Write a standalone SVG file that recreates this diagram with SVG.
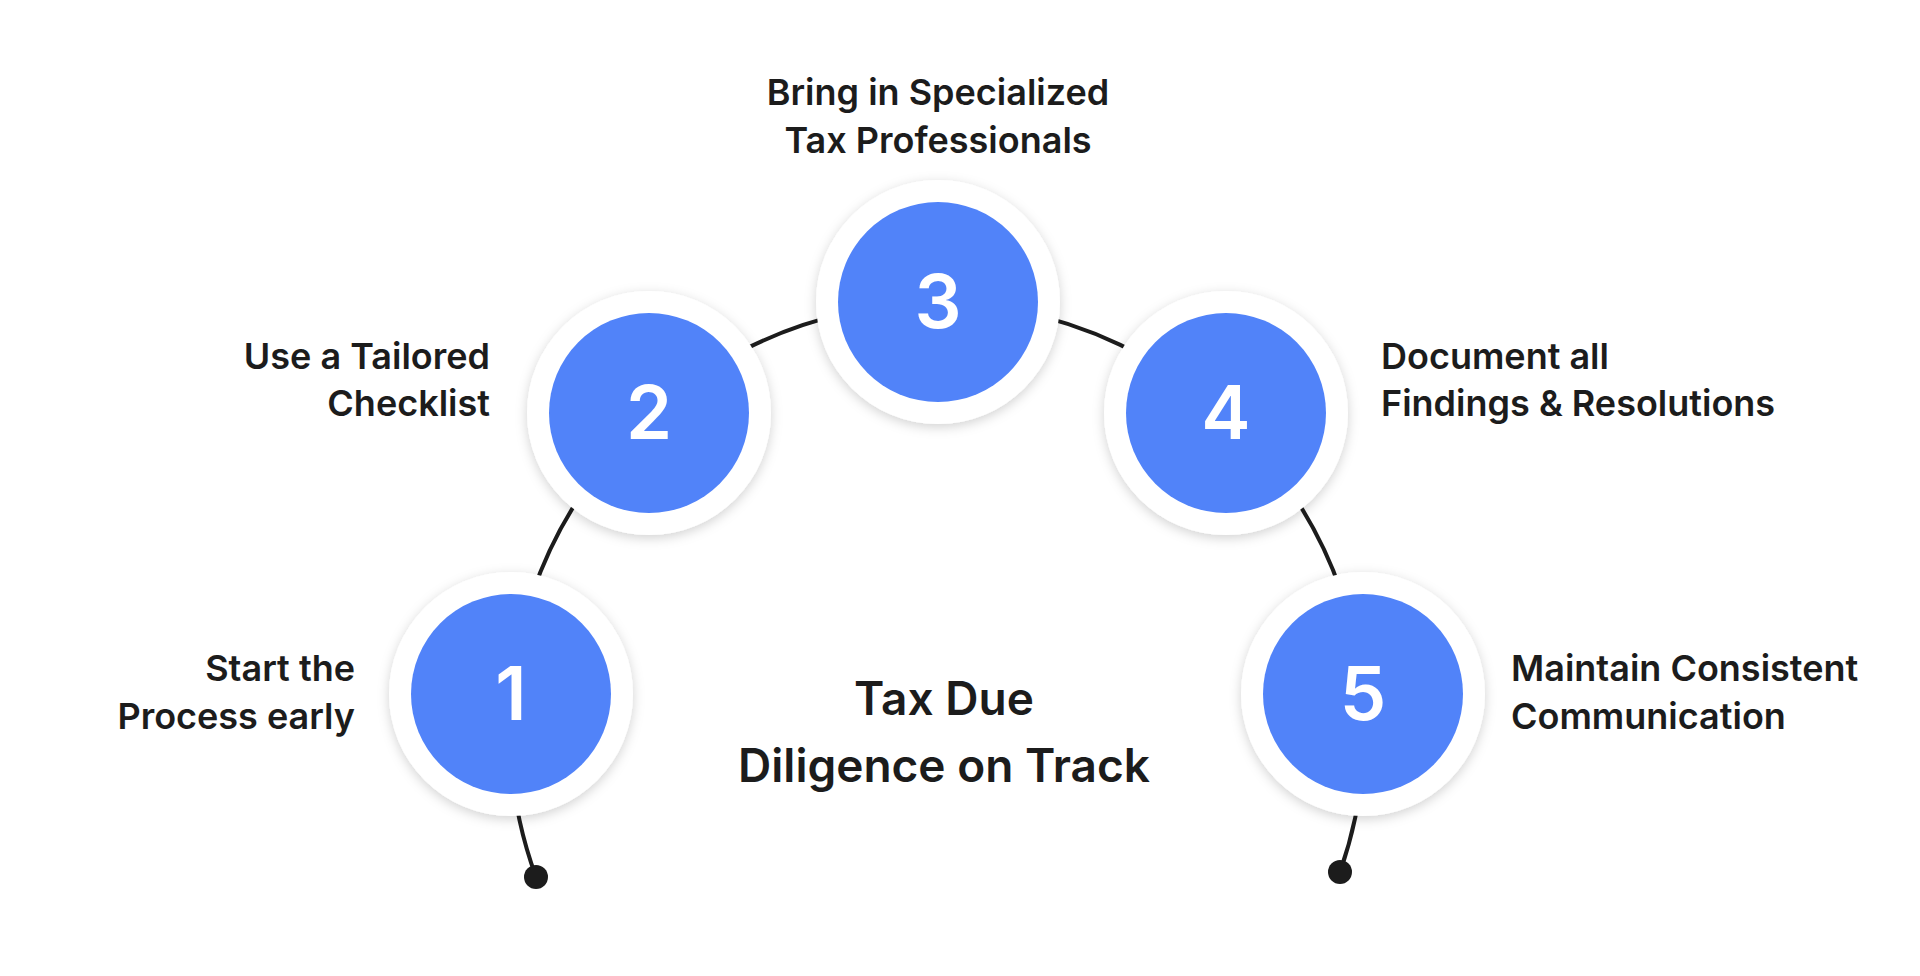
<svg xmlns="http://www.w3.org/2000/svg" width="1920" height="976" viewBox="0 0 1920 976">
<defs>
<filter id="sh" x="-30%" y="-30%" width="160%" height="160%"><feDropShadow dx="0" dy="3" stdDeviation="6" flood-color="#000" flood-opacity="0.18"/></filter>
<style>
.ring{fill:#fff;filter:url(#sh)}
.in{fill:#5183f9}
.num{font-family:Inter,"Liberation Sans",sans-serif;font-weight:600;font-size:74px;fill:#fff;text-anchor:middle}
.lb{font-family:Inter,"Liberation Sans",sans-serif;font-weight:600;font-size:36px;fill:#1c1c1c}
.t{font-family:Inter,"Liberation Sans",sans-serif;font-weight:600;font-size:46px;fill:#1c1c1c;text-anchor:middle}
</style>
</defs>
<rect width="1920" height="976" fill="#fff"/>
<g id="connectors">
<path d="M536 877 A427 427 0 1 1 1340 872" fill="none" stroke="#1c1c1c" stroke-width="4"/>
<circle cx="536" cy="877" r="12" fill="#1c1c1c"/>
<circle cx="1340" cy="872" r="12" fill="#1c1c1c"/>
</g>
<g id="n1"><circle class="ring" cx="511" cy="694" r="122"/><circle class="in" cx="511" cy="694" r="100"/><text class="num" x="511" y="720">1</text>
<text class="lb" text-anchor="end" x="355" y="681">Start the</text><text class="lb" text-anchor="end" x="355" y="729">Process early</text></g>
<g id="n2"><circle class="ring" cx="649" cy="413" r="122"/><circle class="in" cx="649" cy="413" r="100"/><text class="num" x="649" y="439">2</text>
<text class="lb" text-anchor="end" x="490" y="369">Use a Tailored</text><text class="lb" text-anchor="end" x="490" y="416">Checklist</text></g>
<g id="n3"><circle class="ring" cx="938" cy="302" r="122"/><circle class="in" cx="938" cy="302" r="100"/><text class="num" x="938" y="328">3</text>
<text class="lb" text-anchor="middle" x="938" y="105">Bring in Specialized</text><text class="lb" text-anchor="middle" x="938" y="153">Tax Professionals</text></g>
<g id="n4"><circle class="ring" cx="1226" cy="413" r="122"/><circle class="in" cx="1226" cy="413" r="100"/><text class="num" x="1226" y="439">4</text>
<text class="lb" x="1381" y="369">Document all</text><text class="lb" x="1381" y="416">Findings &amp; Resolutions</text></g>
<g id="n5"><circle class="ring" cx="1363" cy="694" r="122"/><circle class="in" cx="1363" cy="694" r="100"/><text class="num" x="1363" y="720">5</text>
<text class="lb" x="1511" y="681">Maintain Consistent</text><text class="lb" x="1511" y="729">Communication</text></g>
<g id="title"><text class="t" x="944" y="715">Tax Due</text><text class="t" x="944" y="782">Diligence on Track</text></g>
</svg>
